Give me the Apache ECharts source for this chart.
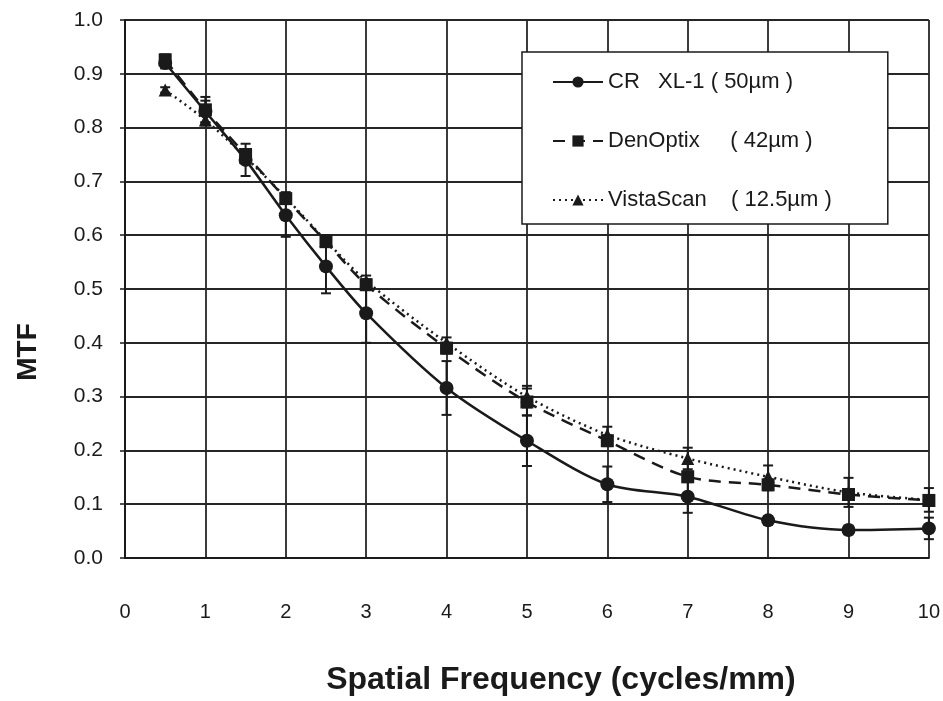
<!DOCTYPE html>
<html>
<head>
<meta charset="utf-8">
<script src="https://cdn.jsdelivr.net/npm/echarts@6/dist/echarts.min.js"></script>
<style>
  html, body { margin: 0; padding: 0; background: #fff; }
  #chart { width: 943px; height: 701px; }
</style>
</head>
<body>
<div id="chart"></div>
<script>
// spatial frequency (cycles/mm)
var freq = [0.5, 1, 1.5, 2, 2.5, 3, 4, 5, 6, 7, 8, 9, 10];

// MTF values
var crXL1     = [0.920, 0.830, 0.740, 0.637, 0.542, 0.455, 0.316, 0.218, 0.137, 0.114, 0.070, 0.052, 0.055];
var denOptix  = [0.926, 0.833, 0.750, 0.668, 0.588, 0.508, 0.390, 0.290, 0.218, 0.151, 0.136, 0.118, 0.107];
var vistaScan = [0.870, 0.814, 0.745, 0.670, 0.590, 0.515, 0.400, 0.300, 0.229, 0.185, 0.151, 0.122, 0.108];

// error bar half widths
var crErr     = [0.010, 0.020, 0.030, 0.040, 0.050, 0.055, 0.050, 0.047, 0.033, 0.030, 0.008, 0.008, 0.020];
var denErr    = [0.010, 0.024, 0.010, 0.010, 0.010, 0.010, 0.010, 0.025, 0.010, 0.010, 0.010, 0.010, 0.010];
var vistaErr  = [0.005, 0.010, 0.010, 0.010, 0.010, 0.010, 0.010, 0.020, 0.015, 0.020, 0.021, 0.027, 0.022];

var names = ['CR   XL-1 ( 50µm )', 'DenOptix     ( 42µm )', 'VistaScan    ( 12.5µm )'];

var ink = '#1a1a1a';
var font = 'Liberation Sans, Arial, sans-serif';

function pts(vals) {
    return freq.map(function (f, i) { return [f, vals[i]]; });
}

function errPts(vals, errs) {
    return freq.map(function (f, i) { return [f, vals[i], errs[i]]; });
}

function errRender(params, api) {
    var x = api.value(0), y = api.value(1), e = api.value(2);
    var hi = api.coord([x, y + e]);
    var lo = api.coord([x, y - e]);
    var w = 5;
    var st = { stroke: ink, lineWidth: 2 };
    return {
        type: 'group',
        children: [
            { type: 'line', shape: { x1: hi[0], y1: hi[1], x2: lo[0], y2: lo[1] }, style: st },
            { type: 'line', shape: { x1: hi[0] - w, y1: hi[1], x2: hi[0] + w, y2: hi[1] }, style: st },
            { type: 'line', shape: { x1: lo[0] - w, y1: lo[1], x2: lo[0] + w, y2: lo[1] }, style: st }
        ]
    };
}

function errSeries(name, vals, errs, z) {
    return {
        name: name,
        type: 'custom',
        renderItem: errRender,
        data: errPts(vals, errs),
        encode: { x: 0, y: 1 },
        z: z,
        silent: true
    };
}

var chart = echarts.init(document.getElementById('chart'));

var option = {
    animation: false,
    backgroundColor: '#fff',
    grid: { left: 125, right: 14, top: 20, bottom: 136 },
    legend: {
        data: names,
        orient: 'vertical',
        left: 522,
        top: 52,
        padding: [19, 56, 13, 30],
        itemGap: 37,
        itemWidth: 50,
        itemHeight: 14,
        backgroundColor: '#fff',
        borderColor: ink,
        borderWidth: 1.5,
        borderRadius: 0,
        textStyle: { fontFamily: font, fontSize: 22, color: ink, padding: [0, 0, 0, 0] }
    },
    xAxis: {
        type: 'value',
        min: 0,
        max: 10,
        interval: 1,
        name: 'Spatial Frequency (cycles/mm)',
        nameLocation: 'middle',
        nameGap: 106,
        nameTextStyle: { fontFamily: font, fontWeight: 'bold', fontSize: 32, color: ink, padding: [0, 0, 0, 68] },
        axisLine: { lineStyle: { color: ink, width: 2 } },
        axisTick: { show: false },
        axisLabel: { margin: 44, fontFamily: font, fontSize: 20, color: ink },
        splitLine: { show: true, lineStyle: { color: '#262626', width: 1.8 } }
    },
    yAxis: {
        type: 'value',
        min: 0,
        max: 1,
        interval: 0.1,
        name: 'MTF',
        nameLocation: 'middle',
        nameGap: 83,
        nameRotate: 90,
        nameTextStyle: { fontFamily: font, fontWeight: 'bold', fontSize: 28, color: ink, padding: [0, 126, 0, 0] },
        axisLine: { show: true, lineStyle: { color: ink, width: 2 } },
        axisTick: { show: true, length: 5, lineStyle: { color: ink, width: 1.5 } },
        axisLabel: {
            margin: 22,
            fontFamily: font,
            fontSize: 21,
            color: ink,
            formatter: function (v) { return v.toFixed(1); }
        },
        splitLine: { show: true, lineStyle: { color: '#262626', width: 1.8 } }
    },
    series: [
        errSeries('errVista', vistaScan, vistaErr, 3),
        {
            name: names[2],
            type: 'line',
            data: pts(vistaScan),
            smooth: 0.3,
            symbol: 'triangle',
            symbolSize: 13,
            itemStyle: { color: ink },
            lineStyle: { color: ink, width: 2.5, type: [2, 4] },
            z: 3
        },
        errSeries('errCR', crXL1, crErr, 4),
        {
            name: names[0],
            type: 'line',
            data: pts(crXL1),
            smooth: 0.3,
            symbol: 'circle',
            symbolSize: 14,
            itemStyle: { color: ink },
            lineStyle: { color: ink, width: 2.5, type: 'solid' },
            z: 4
        },
        errSeries('errDen', denOptix, denErr, 5),
        {
            name: names[1],
            type: 'line',
            data: pts(denOptix),
            smooth: 0.3,
            symbol: 'rect',
            symbolSize: 13,
            itemStyle: { color: ink },
            lineStyle: { color: ink, width: 2.5, type: [12, 8] },
            z: 5
        }
    ]
};

chart.setOption(option);
</script>
</body>
</html>
